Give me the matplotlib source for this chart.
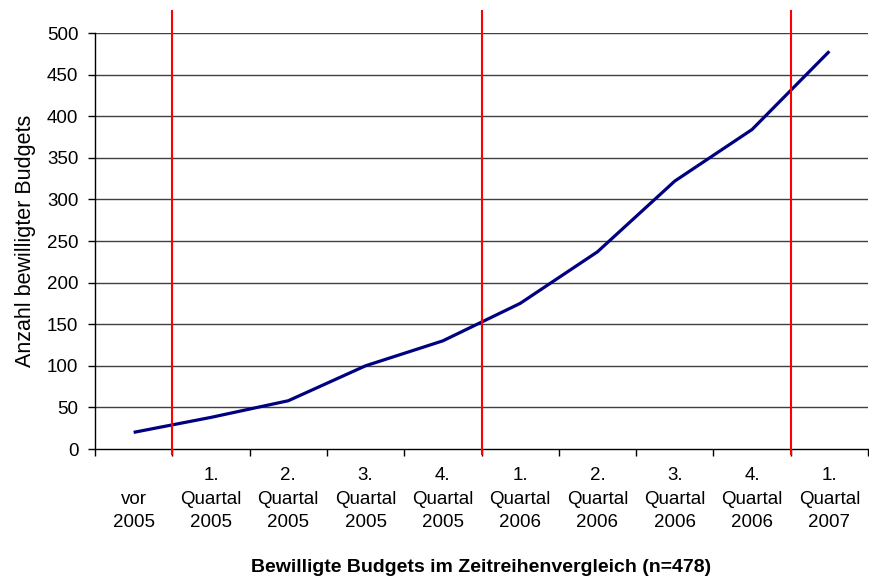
import matplotlib
matplotlib.use("Agg")
import matplotlib.pyplot as plt
import numpy as np

categories = ["\nvor\n2005", "1.\nQuartal\n2005", "2.\nQuartal\n2005", "3.\nQuartal\n2005",
              "4.\nQuartal\n2005", "1.\nQuartal\n2006", "2.\nQuartal\n2006", "3.\nQuartal\n2006",
              "4.\nQuartal\n2006", "1.\nQuartal\n2007"]
values = [20, 38, 58, 100, 130, 175, 237, 322, 384, 478]
red_boundaries = [0.5, 4.5, 8.5]  # between categories (year boundaries)
y_ticks = list(range(0, 501, 50))

plt.rcParams['font.family'] = ['Liberation Sans', 'DejaVu Sans']

fig = plt.figure(figsize=(8.69, 5.83), dpi=100)
ax = fig.add_axes([95/869, 1 - 449/583, (868-95)/869, (449-33)/583])

x = np.arange(len(categories))
ax.set_xlim(-0.5, len(categories) - 0.5)
ax.set_ylim(0, 500)

for yv in y_ticks[1:]:
    ax.axhline(yv, color='#404040', lw=1.0, zorder=1)

ax.plot(x, values, color='#000080', lw=2.3, zorder=3, solid_capstyle='butt')

for b in red_boundaries:
    ax.plot([b, b], [-6.5, 527], color='#ff0000', lw=1.5, zorder=4, clip_on=False)

for s in ['top', 'right']:
    ax.spines[s].set_visible(False)
ax.spines['left'].set_color('black')
ax.spines['bottom'].set_color('black')
ax.spines['left'].set_linewidth(1.0)
ax.spines['bottom'].set_linewidth(1.0)

ax.set_yticks(y_ticks)
ax.tick_params(axis='y', direction='out', length=5, width=1, pad=7, labelsize=13.5)

ax.set_xticks(x)
ax.set_xticklabels(categories, fontsize=13.5, linespacing=1.5, va='top', ha='center')
ax.set_xticks(np.arange(-0.5, len(categories), 1.0), minor=True)
ax.tick_params(axis='x', which='major', length=0, pad=13)
ax.tick_params(axis='x', which='minor', direction='out', length=5, width=1)

ax.set_ylabel("Anzahl bewilligter Budgets", fontsize=15.5, labelpad=8)
ax.set_xlabel("Bewilligte Budgets im Zeitreihenvergleich (n=478)", fontsize=14,
              fontweight='bold', labelpad=20)

fig.savefig("out.png", dpi=100)
